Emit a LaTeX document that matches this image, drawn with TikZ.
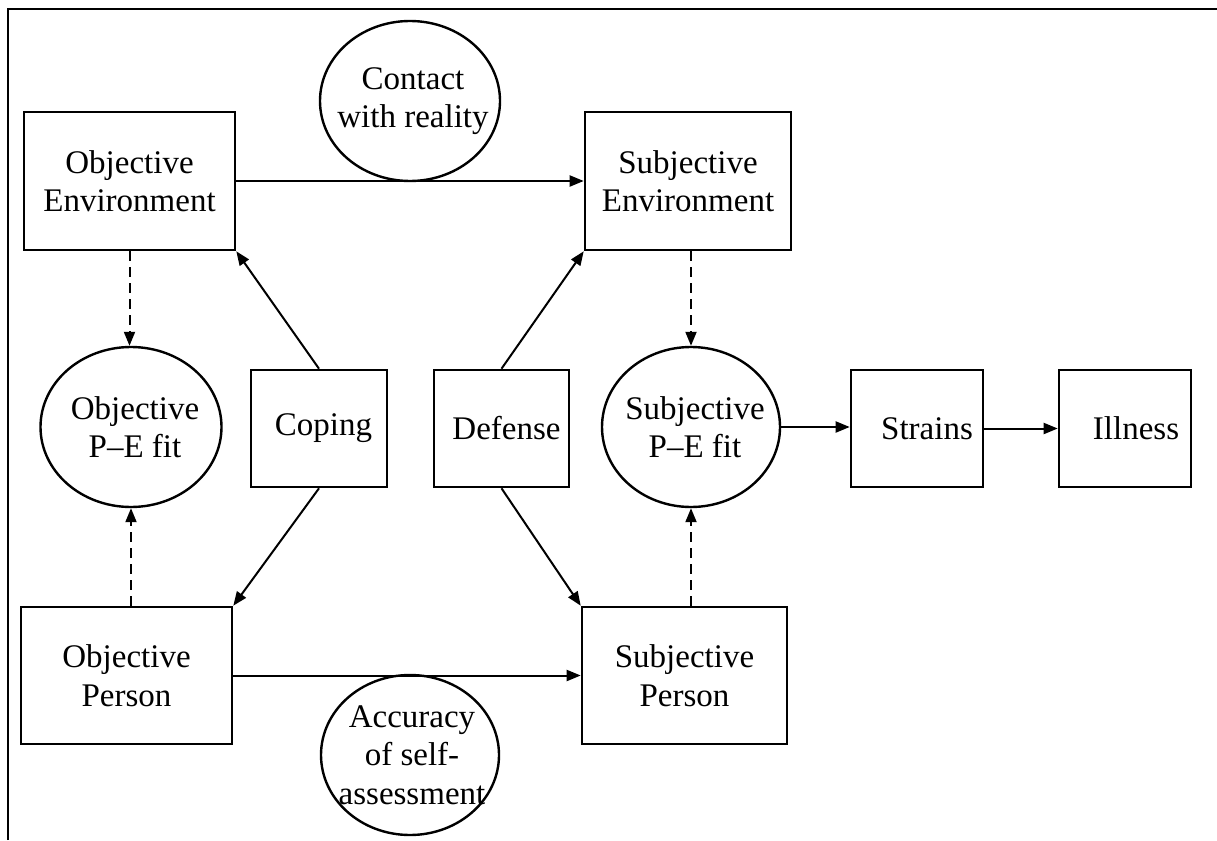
\documentclass[tikz,border=0pt]{standalone}
\usepackage{fontspec}
\setmainfont{Liberation Serif}
\usetikzlibrary{arrows.meta,shapes.geometric}

\tikzset{
  box/.style={draw, line width=2.6pt, rectangle, align=center, inner sep=0pt},
  oval/.style={draw, line width=2.4pt, ellipse, inner sep=0pt,
    minimum width=180pt, minimum height=160pt},
  ovaltext/.style={align=center, inner sep=0pt},
  link/.style={line width=2pt, -{Triangle[length=14pt,width=11pt]}},
  dlink/.style={link, dash pattern=on 10pt off 6pt},
}

\begin{document}
\begin{tikzpicture}[x=1pt, y=-1pt, font=\fontsize{33}{38.5}\selectfont]
  \useasboundingbox (0,0) rectangle (1217,840);

  % frame
  \draw[line width=2.5pt] (8,840) -- (8,9) -- (1217,9);

  % boxes
  \node[box, minimum width=211pt, minimum height=138pt] (oe) at (129.5,181) {Objective\\Environment};
  \node[box, minimum width=206pt, minimum height=138pt] (se) at (688,181) {Subjective\\Environment};
  \node[box, minimum width=211pt, minimum height=137pt] (op) at (126.5,675.5) {Objective\\Person};
  \node[box, minimum width=205pt, minimum height=137pt] (sp) at (684.5,675.5) {Subjective\\Person};
  \node[box, minimum width=136pt, minimum height=117pt] (cop) at (319,428.5) {\hspace*{9pt}Coping};
  \node[box, minimum width=135pt, minimum height=117pt] (def) at (501.5,428.5) {\hspace*{10pt}Defense};
  \node[box, minimum width=132pt, minimum height=117pt] (str) at (917,428.5) {\hspace*{20pt}Strains};
  \node[box, minimum width=132pt, minimum height=117pt] (ill) at (1125,428.5) {\hspace*{22pt}Illness};

  % ovals (text set as labels so it may reach the outline)
  \node[oval, label={[ovaltext, xshift=3pt]center:{Contact\\with reality}}] (con) at (410,101) {};
  \node[oval, minimum width=181pt, label={[ovaltext, xshift=4pt]center:{Objective\\P–E fit}}] (ope) at (131,427) {};
  \node[oval, minimum width=178pt, label={[ovaltext, xshift=4pt]center:{Subjective\\P–E fit}}] (spe) at (691,427) {};
  \node[oval, minimum width=178pt, label={[ovaltext, xshift=2pt]center:{Accuracy\\of self-\\assessment}}] (acc) at (410,755) {};

  % solid links
  \draw[link] (oe.east) -- (se.west);
  \draw[link] (op.east) -- (sp.west);
  \draw[link] (cop.north) -- (oe.south east);
  \draw[link] (cop.south) -- (op.north east);
  \draw[link] (def.north) -- (se.south west);
  \draw[link] (def.south) -- (sp.north west);
  \draw[link] (spe.east) -- (spe.east -| str.west);
  \draw[link] (str.east) -- (ill.west);

  % dashed links
  \draw[dlink] (oe.south) -- (oe.south |- ope.north);
  \draw[dlink] (op.north -| ope.south) -- (ope.south);
  \draw[dlink] (se.south -| spe.north) -- (spe.north);
  \draw[dlink] (sp.north -| spe.south) -- (spe.south);
\end{tikzpicture}
\end{document}
